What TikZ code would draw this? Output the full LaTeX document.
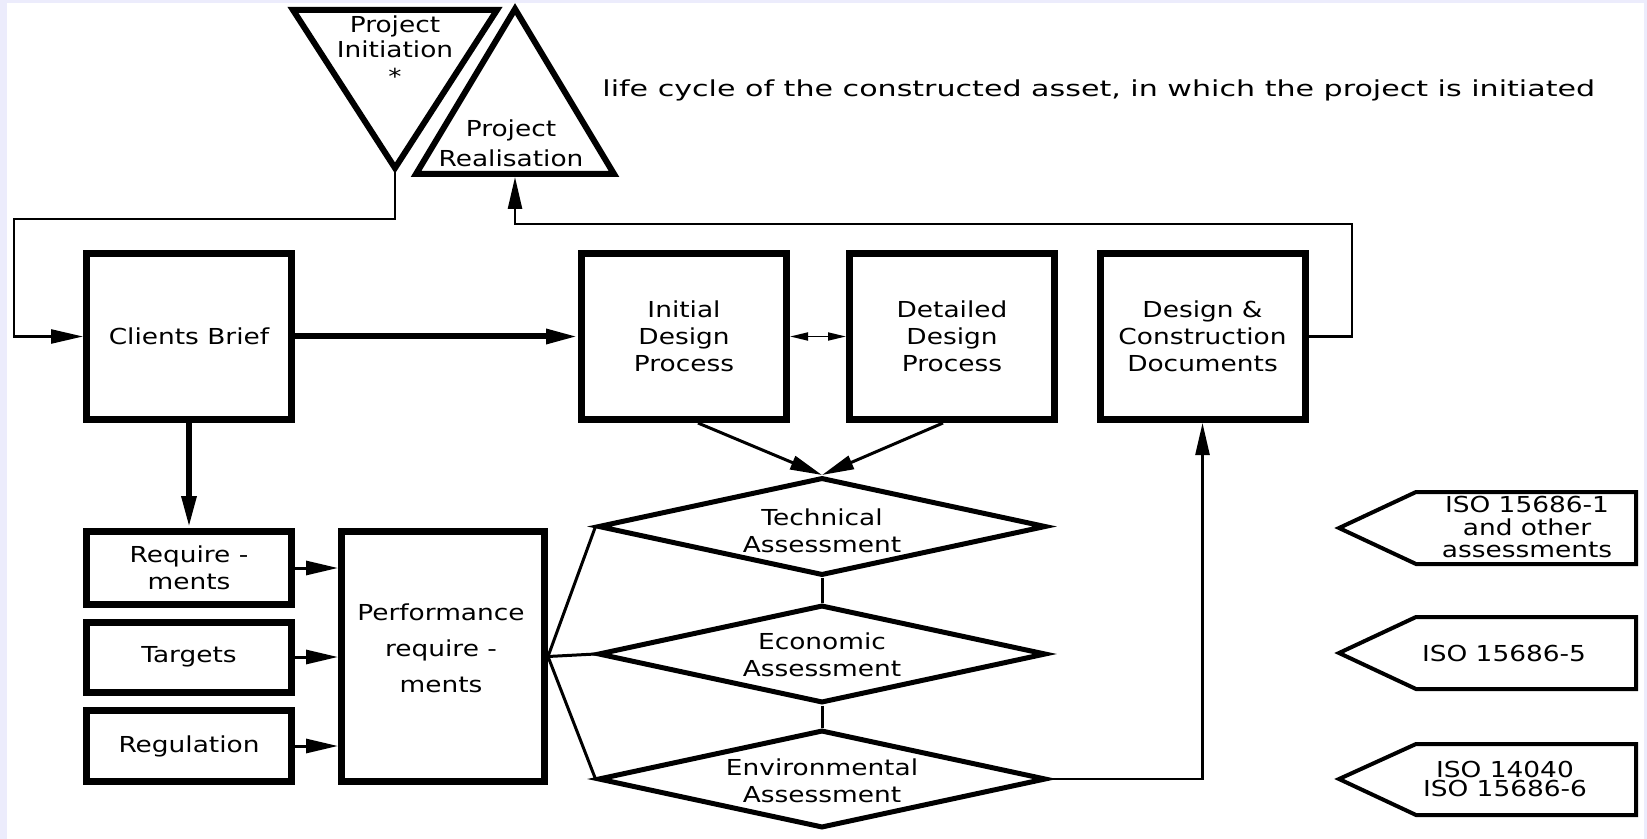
\documentclass[tikz,border=0pt]{standalone}
\usepackage{fontspec}
\setmainfont{DejaVu Sans}[FakeStretch=1.2]
\usetikzlibrary{arrows.meta,shapes.geometric}
\definecolor{lav}{RGB}{236,236,252}
\begin{document}
\begin{tikzpicture}[x=0.5pt,y=-0.5pt,
  font=\fontsize{11}{13.5}\selectfont,
  bigbox/.style={draw,line width=3.5pt,minimum width=102.5pt,minimum height=83pt,align=center,inner sep=0pt},
  smallbox/.style={draw,line width=3.5pt,minimum width=102.5pt,align=center,inner sep=0pt},
  dia/.style={draw,diamond,line width=2.5pt,minimum width=224pt,minimum height=49pt,inner sep=0pt},
  lbl/.style={align=center,inner sep=0pt},
  tri/.style={draw,line width=3pt,line join=miter},
  pent/.style={draw,line width=2pt,line join=miter},
  arr/.style={-{Triangle[length=16pt,width=7pt]}},
  thickline/.style={line width=3pt},
  midline/.style={line width=1.5pt},
  thinline/.style={line width=1.25pt}
]
% background
\useasboundingbox (0,0) rectangle (1647,839);
\fill[lav] (0,0) rectangle (1647,839);
\fill[white] (7,3) rectangle (1644,839);

% triangles
\draw[tri] (293,10) -- (497,10) -- (395,168) -- cycle;
\draw[tri] (515,9) -- (614,174) -- (416,174) -- cycle;
\coordinate (initApex) at (395,168);
\coordinate (realBase) at (515,177);
\node[lbl,font=\fontsize{11}{12.5}\selectfont] (initT) at (395,50) {Project\\Initiation\\[1pt]*};
\node[lbl,font=\fontsize{11}{15}\selectfont] (realT) at (511,143) {Project\\Realisation};

\node[anchor=west,inner sep=0pt] (life) at (602,90) {\scalebox{1.14}[1]{life cycle of the constructed asset, in which the project is initiated}};

% top boxes
\node[bigbox] (cb)   at (189,336.5) {Clients Brief};
\node[bigbox] (init) at (684,336.5) {Initial\\Design\\Process};
\node[bigbox] (det)  at (952,336.5) {Detailed\\Design\\Process};
\node[bigbox] (dc)   at (1202.5,336.5) {Design \&\\Construction\\Documents};

% left boxes
\node[smallbox,minimum height=36.5pt] (req) at (189,568) {Require -\\ments};
\node[smallbox,minimum height=35pt]   (tar) at (189,657) {Targets};
\node[smallbox,minimum height=35.5pt] (reg) at (189,746) {Regulation};
\node[draw,line width=3.5pt,minimum width=101.5pt,minimum height=125pt,inner sep=0pt] (perf) at (443,656.5) {};
\node[lbl,font=\fontsize{11}{18}\selectfont] (perfT) at (441,648) {Performance\\require -\\ments};

% diamonds
\node[dia] (tech) at (822,526.5) {};
\node[dia] (eco)  at (822,654) {};
\node[dia] (env)  at (822,779) {};
\node[lbl] (techT) at (822,531) {Technical\\Assessment};
\node[lbl] (ecoT)  at (822,655) {Economic\\Assessment};
\node[lbl] (envT)  at (822,781) {Environmental\\Assessment};

% pentagons
\draw[pent] (1416,492) -- (1636,492) -- (1636,564) -- (1416,564) -- (1339,528) -- cycle;
\draw[pent] (1416,617) -- (1636,617) -- (1636,689) -- (1416,689) -- (1339,653) -- cycle;
\draw[pent] (1416,744) -- (1636,744) -- (1636,815) -- (1416,815) -- (1339,779) -- cycle;
\node[lbl,font=\fontsize{11}{11.3}\selectfont] (iso1) at (1527,527) {ISO 15686-1\\and other\\assessments};
\node[lbl] (iso5) at (1504,653) {ISO 15686-5};
\node[lbl,font=\fontsize{11}{9.8}\selectfont] (iso6) at (1505,779) {ISO 14040\\ISO 15686-6};

% connectors
\coordinate (lp) at (14,219);
\draw[thinline,arr] (initApex) |- (lp) |- (cb.west);
\coordinate (fb) at (1352,224);
\draw[thinline,arr] (dc.east) -| (fb) -| (realBase);
\draw[thickline,arr] (cb.east) -- (init.west);
\draw[line width=0.9pt,{Triangle[length=9pt,width=4pt]}-{Triangle[length=9pt,width=4pt]}] (init.east) -- (det.west);
\draw[thickline,arr] (cb.south) -- (req.north);
\draw[midline,arr] (req.east) -- (req.east -| perf.west);
\draw[midline,arr] (tar.east) -- (tar.east -| perf.west);
\draw[midline,arr] (reg.east) -- (reg.east -| perf.west);
\draw[midline] (tech.west) -- (perf.east) -- (env.west);
\draw[midline] (perf.east) -- (eco.west);
\draw[midline] (tech.south) -- (eco.north);
\draw[midline] (eco.south) -- (env.north);
\draw[midline,arr] ([xshift=7pt]init.south) -- (tech.north);
\draw[midline,arr] ([xshift=-4.5pt]det.south) -- (tech.north);
\draw[thinline,arr] (env.east) -| (dc.south);
\end{tikzpicture}
\end{document}
